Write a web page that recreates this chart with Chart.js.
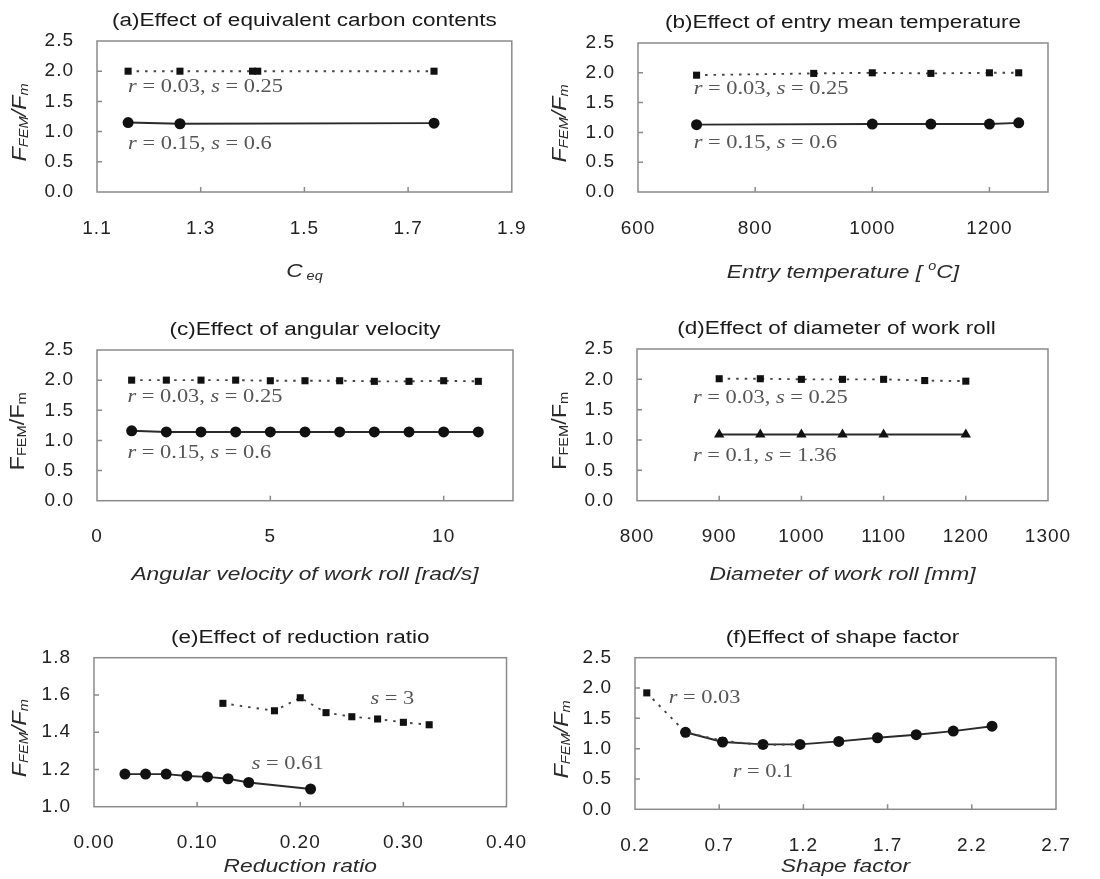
<!DOCTYPE html>
<html>
<head>
<meta charset="utf-8">
<script src="https://cdn.jsdelivr.net/npm/chart.js@4/dist/chart.umd.min.js"></script>
<style>
  body { margin: 0; background: #fff; }
  #wrap { position: relative; width: 1100px; height: 879px; overflow: hidden; }
  canvas { position: absolute; }
</style>
</head>
<body>
<div id="wrap">
  <canvas id="pa" width="550" height="290" style="left:0;top:0"></canvas>
  <canvas id="pb" width="550" height="290" style="left:550px;top:0"></canvas>
  <canvas id="pc" width="550" height="300" style="left:0;top:290px"></canvas>
  <canvas id="pd" width="550" height="300" style="left:550px;top:290px"></canvas>
  <canvas id="pe" width="550" height="289" style="left:0;top:590px"></canvas>
  <canvas id="pf" width="550" height="289" style="left:550px;top:590px"></canvas>
</div>
<script>
// (a) equivalent carbon content
const ceqSq = [1.16, 1.26, 1.40, 1.41, 1.75];
const ceqSqVal = [2.0, 2.0, 2.0, 2.0, 2.0];
const ceqCi = [1.16, 1.26, 1.75];
const ceqCiVal = [1.15, 1.13, 1.14];

// (b) entry mean temperature
const tempSq = [700, 900, 1000, 1100, 1200, 1250];
const tempSqVal = [1.96, 1.99, 2.0, 1.99, 2.0, 2.0];
const tempCi = [700, 1000, 1100, 1200, 1250];
const tempCiVal = [1.13, 1.14, 1.14, 1.14, 1.16];

// (c) angular velocity
const omega = [1, 2, 3, 4, 5, 6, 7, 8, 9, 10, 11];
const omegaSqVal = [2.0, 2.0, 2.0, 2.0, 1.99, 1.99, 1.99, 1.98, 1.98, 1.99, 1.98];
const omegaCiVal = [1.16, 1.14, 1.14, 1.14, 1.14, 1.14, 1.14, 1.14, 1.14, 1.14, 1.14];

// (d) work roll diameter
const diamSq = [900, 950, 1000, 1050, 1100, 1150, 1200];
const diamSqVal = [2.01, 2.01, 2.0, 2.0, 2.0, 1.98, 1.97];
const diamTr = [900, 950, 1000, 1050, 1100, 1200];
const diamTrVal = [1.09, 1.09, 1.09, 1.09, 1.09, 1.09];

// (e) reduction ratio
const redCi = [0.03, 0.05, 0.07, 0.09, 0.11, 0.13, 0.15, 0.21];
const redCiVal = [1.175, 1.175, 1.175, 1.165, 1.16, 1.15, 1.13, 1.095];
const redSq = [0.125, 0.175, 0.2, 0.225, 0.25, 0.275, 0.3, 0.325];
const redSqVal = [1.555, 1.515, 1.585, 1.505, 1.483, 1.471, 1.453, 1.44];

// (f) shape factor
const shapeCi = [0.5, 0.72, 0.96, 1.18, 1.41, 1.64, 1.87, 2.09, 2.32];
const shapeCiVal = [1.27, 1.11, 1.07, 1.07, 1.12, 1.18, 1.23, 1.29, 1.37];
const shapeSq = [0.27, 0.5, 0.72, 0.96, 1.18];
const shapeSqVal = [1.92, 1.27, 1.13, 1.06, 1.07];

const SANS = '"Liberation Sans", Arial, sans-serif';
const SERIF = '"Liberation Serif", "Times New Roman", serif';

function pts(xs, ys) {
    return xs.map((x, i) => ({ x: x, y: ys[i] }));
}

function dotted(xs, ys) {
    return {
        data: pts(xs, ys), showLine: true,
        borderColor: '#444', borderWidth: 1.9, borderDash: [2.5, 6],
        pointStyle: 'rect', pointRadius: 5, pointBackgroundColor: '#111', pointBorderWidth: 0
    };
}

function solid(xs, ys, style) {
    return {
        data: pts(xs, ys), showLine: true,
        borderColor: '#2a2a2a', borderWidth: 1.9,
        pointStyle: style || 'circle', pointRadius: style === 'triangle' ? 6 : 5.5,
        pointBackgroundColor: '#111', pointBorderWidth: 0
    };
}

// label text "r = 0.03, s = 0.25" with italic symbols
function rs(r, s) {
    const runs = [];
    if (r !== null) {
        runs.push({ t: 'r', f: 'italic 19px ' + SERIF });
        runs.push({ t: ' = ' + r + (s !== null ? ', ' : ''), f: '19px ' + SERIF });
    }
    if (s !== null) {
        runs.push({ t: 's', f: 'italic 19px ' + SERIF });
        runs.push({ t: ' = ' + s, f: '19px ' + SERIF });
    }
    return runs;
}

function ratioTitle(italic) {
    const st = italic ? 'italic ' : '';
    return [
        { t: 'F', f: st + '21px ' + SANS },
        { t: 'FEM', f: st + '13px ' + SANS, dy: 4 },
        { t: '/F', f: st + '21px ' + SANS },
        { t: 'm', f: st + '13px ' + SANS, dy: 4 }
    ];
}

// draw a row of text runs; align 'center' or 'left'
function drawRuns(ctx, runs, align, sx) {
    ctx.scale(sx, 1);
    let total = 0;
    runs.forEach(r => { ctx.font = r.f; total += ctx.measureText(r.t).width; });
    let x = align === 'center' ? -total / 2 : 0;
    runs.forEach(r => {
        ctx.font = r.f;
        ctx.fillText(r.t, x, r.dy || 0);
        x += ctx.measureText(r.t).width;
    });
}

function makePanel(id, p) {
    const canvas = document.getElementById(id);
    const W = canvas.width, H = canvas.height;

    const framePlugin = {
        id: 'frame',
        beforeDraw(chart) {
            chart.ctx.letterSpacing = '1px';
        },
        beforeDatasetsDraw(chart) {
            const ctx = chart.ctx, a = chart.chartArea, sx = chart.scales.x, sy = chart.scales.y;
            ctx.save();
            ctx.strokeStyle = '#8a8a8a';
            ctx.lineWidth = 1.5;
            ctx.strokeRect(a.left, a.top, a.right - a.left, a.bottom - a.top);
            ctx.beginPath();
            sx.ticks.forEach(t => {
                const px = sx.getPixelForValue(t.value);
                if (px > a.left + 2 && px < a.right - 2) { ctx.moveTo(px, a.bottom); ctx.lineTo(px, a.bottom - 5); }
            });
            sy.ticks.forEach(t => {
                const py = sy.getPixelForValue(t.value);
                if (py > a.top + 2 && py < a.bottom - 2) { ctx.moveTo(a.left, py); ctx.lineTo(a.left + 5, py); }
            });
            ctx.stroke();
            ctx.restore();
        },
        afterDraw(chart) {
            const ctx = chart.ctx, a = chart.chartArea, sx = chart.scales.x, sy = chart.scales.y;
            const cx = (a.left + a.right) / 2, cy = (a.top + a.bottom) / 2;
            ctx.save();
            ctx.letterSpacing = '0px';
            ctx.textBaseline = 'middle';

            // panel title
            ctx.fillStyle = '#1a1a1a';
            ctx.save();
            ctx.translate(cx + (p.titleDx || 0), a.top - 20);
            drawRuns(ctx, [{ t: p.title, f: '18px ' + SANS }], 'center', 1.25);
            ctx.restore();

            // x-axis title
            ctx.fillStyle = '#2a2a2a';
            ctx.save();
            ctx.translate(cx, a.bottom + p.xTitleGap);
            drawRuns(ctx, p.xTitle, 'center', 1.2);
            ctx.restore();

            // y-axis title
            ctx.save();
            ctx.translate(a.left - p.yTitleGap, cy + 6);
            ctx.rotate(-Math.PI / 2);
            drawRuns(ctx, p.yTitle, 'center', 1.12);
            ctx.restore();

            // curve labels
            ctx.fillStyle = '#555';
            p.notes.forEach(n => {
                ctx.save();
                ctx.translate(sx.getPixelForValue(n.x), sy.getPixelForValue(n.y));
                drawRuns(ctx, n.runs, 'left', 1.18);
                ctx.restore();
            });
            ctx.restore();
        }
    };

    const tickFont = { family: SANS, size: 19 };

    return new Chart(canvas, {
        type: 'scatter',
        data: { datasets: p.datasets },
        options: {
            responsive: false,
            animation: false,
            clip: false,
            layout: { padding: { left: 0, top: p.area[2], right: W - p.area[1], bottom: 0 } },
            plugins: { legend: { display: false }, tooltip: { enabled: false } },
            scales: {
                x: {
                    type: 'linear', min: p.x[0], max: p.x[1],
                    grid: { display: false, drawTicks: false },
                    border: { display: false },
                    ticks: {
                        stepSize: p.x[2], includeBounds: false, autoSkip: false, maxRotation: 0,
                        padding: 25, color: '#222', font: tickFont,
                        callback: v => p.xFmt(v)
                    },
                    afterFit(s) { s.height = H - p.area[3]; }
                },
                y: {
                    type: 'linear', min: p.y[0], max: p.y[1],
                    grid: { display: false, drawTicks: false },
                    border: { display: false },
                    ticks: {
                        stepSize: p.y[2], includeBounds: false, autoSkip: false,
                        padding: 23, color: '#222', font: tickFont,
                        callback: v => v.toFixed(1)
                    },
                    afterFit(s) { s.width = p.area[0]; }
                }
            }
        },
        plugins: [framePlugin]
    });
}

const italicTitle = t => [{ t: t, f: 'italic 19px ' + SANS }];

makePanel('pa', {
    area: [97, 516, 41, 192],
    x: [1.1, 1.9, 0.2], y: [0, 2.5, 0.5], xFmt: v => v.toFixed(1),
    title: '(a)Effect of equivalent carbon contents',
    xTitle: [{ t: 'C', f: 'italic 19px ' + SANS }, { t: ' eq', f: 'italic 12px ' + SANS, dy: 5 }],
    xTitleGap: 80, yTitle: ratioTitle(true), yTitleGap: 77,
    datasets: [dotted(ceqSq, ceqSqVal), solid(ceqCi, ceqCiVal)],
    notes: [{ x: 1.16, y: 1.74, runs: rs('0.03', '0.25') }, { x: 1.16, y: 0.79, runs: rs('0.15', '0.6') }]
});

makePanel('pb', {
    area: [88, 498, 43, 192],
    x: [600, 1300, 200], y: [0, 2.5, 0.5], xFmt: v => String(v),
    title: '(b)Effect of entry mean temperature',
    xTitle: [{ t: 'Entry temperature [ ', f: 'italic 19px ' + SANS }, { t: 'o', f: 'italic 12px ' + SANS, dy: -6 },
             { t: 'C]', f: 'italic 19px ' + SANS }],
    xTitleGap: 81, yTitle: ratioTitle(true), yTitleGap: 78,
    datasets: [dotted(tempSq, tempSqVal), solid(tempCi, tempCiVal)],
    notes: [{ x: 695, y: 1.73, runs: rs('0.03', '0.25') }, { x: 695, y: 0.82, runs: rs('0.15', '0.6') }]
});

makePanel('pc', {
    area: [97, 513, 60, 210.7],
    x: [0, 12, 5], y: [0, 2.5, 0.5], xFmt: v => String(v),
    title: '(c)Effect of angular velocity',
    xTitle: italicTitle('Angular velocity of work roll [rad/s]'),
    xTitleGap: 74, yTitle: ratioTitle(false), yTitleGap: 79,
    datasets: [dotted(omega, omegaSqVal), solid(omega, omegaCiVal)],
    notes: [{ x: 0.88, y: 1.72, runs: rs('0.03', '0.25') }, { x: 0.88, y: 0.79, runs: rs('0.15', '0.6') }]
});

makePanel('pd', {
    area: [87, 498, 59, 210.7],
    x: [800, 1300, 100], y: [0, 2.5, 0.5], xFmt: v => String(v),
    title: '(d)Effect of diameter of work roll', titleDx: -6,
    xTitle: italicTitle('Diameter of work roll [mm]'),
    xTitleGap: 74, yTitle: ratioTitle(false), yTitleGap: 77,
    datasets: [dotted(diamSq, diamSqVal), solid(diamTr, diamTrVal, 'triangle')],
    notes: [{ x: 868, y: 1.69, runs: rs('0.03', '0.25') }, { x: 868, y: 0.74, runs: rs('0.1', '1.36') }]
});

makePanel('pe', {
    area: [94, 508, 67.7, 216.7],
    x: [0, 0.4, 0.1], y: [1.0, 1.8, 0.2], xFmt: v => v.toFixed(2),
    title: '(e)Effect of reduction ratio',
    xTitle: italicTitle('Reduction ratio'),
    xTitleGap: 60, yTitle: ratioTitle(true), yTitleGap: 74,
    datasets: [dotted(redSq, redSqVal), solid(redCi, redCiVal)],
    notes: [{ x: 0.268, y: 1.58, runs: rs(null, '3') }, { x: 0.153, y: 1.23, runs: rs(null, '0.61') }]
});

makePanel('pf', {
    area: [85, 506, 67.7, 219.3],
    x: [0.2, 2.7, 0.5], y: [0, 2.5, 0.5], xFmt: v => v.toFixed(1),
    title: '(f)Effect of shape factor', titleDx: -3,
    xTitle: italicTitle('Shape factor'),
    xTitleGap: 57, yTitle: ratioTitle(true), yTitleGap: 73,
    datasets: [dotted(shapeSq, shapeSqVal), solid(shapeCi, shapeCiVal)],
    notes: [{ x: 0.4, y: 1.83, runs: rs('0.03', null) }, { x: 0.78, y: 0.62, runs: rs('0.1', null) }]
});
</script>
</body>
</html>
